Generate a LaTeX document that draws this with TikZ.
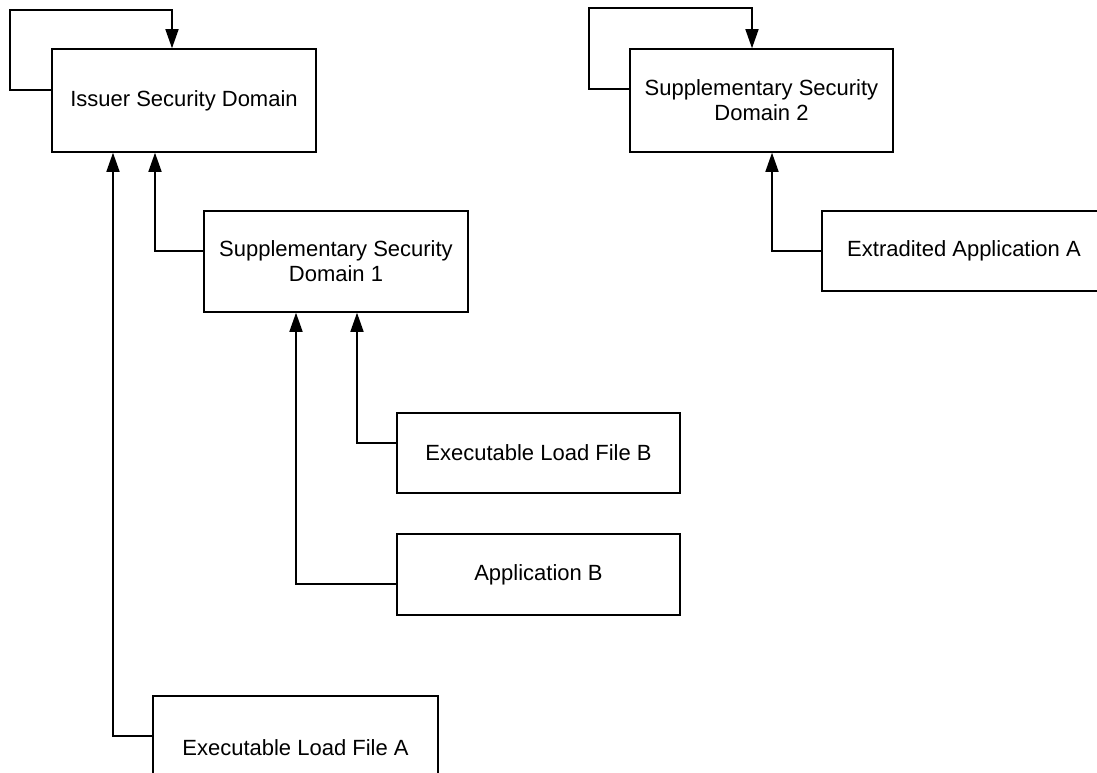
\documentclass[tikz,border=0pt]{standalone}
\usepackage{fontspec}
\setmainfont{Liberation Sans}
\usepackage{tikz}
\usetikzlibrary{arrows.meta, calc, positioning}

\begin{document}
\begin{tikzpicture}[x=1pt, y=-1pt,
    domainbox/.style={draw, line width=1.5pt, rectangle, align=center, inner sep=0pt,
        font=\fontsize{22}{25}\selectfont},
    arr/.style={line width=1.5pt, -{Triangle[length=19pt, width=13pt]}}]
    \useasboundingbox (0, 0) rectangle (1097, 773);
    \clip (0, 0) rectangle (1097, 773);

    \node[domainbox, minimum width=264pt, minimum height=103pt] (isd) at (184, 100.5) {Issuer Security Domain};
    \node[domainbox, minimum width=263pt, minimum height=103pt] (ssd2) at (761.5, 100.5) {Supplementary Security\\Domain 2};
    \node[domainbox, minimum width=264pt, minimum height=101pt] (ssd1) at (336, 261.5) {Supplementary Security\\Domain 1};
    \node[domainbox, minimum width=284pt, minimum height=80pt] (extra) at (964, 251) {Extradited Application A};
    \node[domainbox, minimum width=283pt, minimum height=80pt] (elfb) at (538.5, 453) {Executable Load File B};
    \node[domainbox, minimum width=283pt, minimum height=81pt] (appb) at (538.5, 574.5) {Application B};
    \node[domainbox, minimum width=285pt, minimum height=104pt] (elfa) at (295.5, 748) {Executable Load File A};

    \coordinate (isdloop) at (10, 10);
    \coordinate (ssdloop) at (589, 8);

    \draw[arr] ([yshift=10.5pt]isd.west) -| (isdloop) -| ([xshift=-12pt]isd.north);
    \draw[arr] ([yshift=11.5pt]ssd2.west) -| (ssdloop) -| ([xshift=-9.5pt]ssd2.north);

    \draw[arr] ([yshift=10.5pt]ssd1.west) -| ([xshift=-29pt]isd.south);
    \draw[arr] ([yshift=12pt]elfa.west) -| ([xshift=-71pt]isd.south);
    \draw[arr] ([yshift=10pt]elfb.west) -| ([xshift=21pt]ssd1.south);
    \draw[arr] ([yshift=-9.5pt]appb.west) -| ([xshift=-40pt]ssd1.south);
    \draw[arr] (extra.west) -| ([xshift=10.5pt]ssd2.south);
\end{tikzpicture}
\end{document}
